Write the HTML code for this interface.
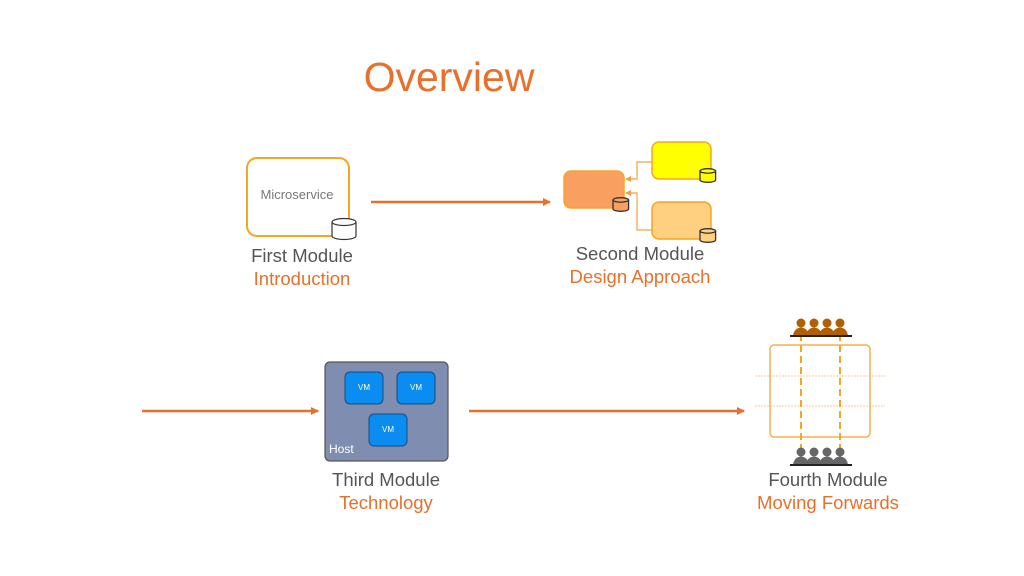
<!DOCTYPE html>
<html><head><meta charset="utf-8"><style>
html,body{margin:0;padding:0;background:#fff;}
svg{display:block;font-family:"Liberation Sans",sans-serif;}
</style></head><body>
<svg width="1024" height="576" viewBox="0 0 1024 576" xmlns="http://www.w3.org/2000/svg">
<defs>
<marker id="ah" markerWidth="8" markerHeight="8" refX="7" refY="4" orient="auto" markerUnits="userSpaceOnUse">
<path d="M0,0 L8,4 L0,8 Z" fill="#E8702A"/></marker>
<marker id="ah2" markerWidth="6" markerHeight="6" refX="5" refY="3" orient="auto" markerUnits="userSpaceOnUse">
<path d="M0,0 L6,3 L0,6 Z" fill="#F5A040"/></marker>
<g id="cyl"><path d="M0,3 L0,17 A12,3.5 0 0 0 24,17 L24,3" fill="#fff" stroke="#333" stroke-width="1.2"/><ellipse cx="12" cy="3" rx="12" ry="3.5" fill="#fff" stroke="#333" stroke-width="1.2"/></g>
<g id="person"><circle cx="6" cy="5" r="4.5"/><path d="M-2,18 Q-1,10 6,9.5 Q13,10 14,18 Z"/></g>
</defs>
<text x="449" y="91" font-size="41" fill="#E8702A" text-anchor="middle">Overview</text>

<!-- First -->
<rect x="247" y="158" width="102" height="78" rx="10" fill="#fff" stroke="#F5A623" stroke-width="2"/>
<text x="297" y="199" font-size="13" fill="#777" text-anchor="middle">Microservice</text>
<use href="#cyl" x="332" y="219"/>
<text x="302" y="262" font-size="18.5" fill="#555" text-anchor="middle">First Module</text>
<text x="302" y="285" font-size="18.5" fill="#E8702A" text-anchor="middle">Introduction</text>
<line x1="371" y1="202" x2="550" y2="202" stroke="#E8702A" stroke-width="2.5" marker-end="url(#ah)"/>

<!-- Second -->
<rect x="564" y="171" width="60" height="37" rx="7" fill="#F9A060" stroke="#F5A623" stroke-width="1.5"/>
<rect x="652" y="142" width="59" height="37" rx="7" fill="#FFFF00" stroke="#F5A623" stroke-width="1.5"/>
<rect x="652" y="202" width="59" height="37" rx="7" fill="#FFD080" stroke="#F5A623" stroke-width="1.5"/>
<path d="M652,162 L637,162 L637,179 L626,179" fill="none" stroke="#F5A040" stroke-width="1.2" marker-end="url(#ah2)"/>
<path d="M652,230 L637,230 L637,193 L626,193" fill="none" stroke="#F5A040" stroke-width="1.2" marker-end="url(#ah2)"/>
<g transform="translate(613,198) scale(0.65)"><path d="M0,3 L0,17 A12,3.5 0 0 0 24,17 L24,3" fill="#F9A060" stroke="#333" stroke-width="2"/><ellipse cx="12" cy="3" rx="12" ry="3.5" fill="#F9A060" stroke="#333" stroke-width="2"/></g>
<g transform="translate(700,169) scale(0.65)"><path d="M0,3 L0,17 A12,3.5 0 0 0 24,17 L24,3" fill="#FFFF00" stroke="#333" stroke-width="2"/><ellipse cx="12" cy="3" rx="12" ry="3.5" fill="#FFFF00" stroke="#333" stroke-width="2"/></g>
<g transform="translate(700,229) scale(0.65)"><path d="M0,3 L0,17 A12,3.5 0 0 0 24,17 L24,3" fill="#FFD080" stroke="#333" stroke-width="2"/><ellipse cx="12" cy="3" rx="12" ry="3.5" fill="#FFD080" stroke="#333" stroke-width="2"/></g>
<text x="640" y="260" font-size="18.5" fill="#555" text-anchor="middle">Second Module</text>
<text x="640" y="283" font-size="18.5" fill="#E8702A" text-anchor="middle">Design Approach</text>

<!-- Third -->
<line x1="142" y1="411" x2="318" y2="411" stroke="#E8702A" stroke-width="2.5" marker-end="url(#ah)"/>
<rect x="325" y="362" width="123" height="99" rx="5" fill="#7F8DB0" stroke="#555" stroke-width="1.2"/>
<rect x="345" y="372" width="38" height="32" rx="5" fill="#0A8CF0" stroke="#1a4a80"/>
<rect x="397" y="372" width="38" height="32" rx="5" fill="#0A8CF0" stroke="#1a4a80"/>
<rect x="369" y="414" width="38" height="32" rx="5" fill="#0A8CF0" stroke="#1a4a80"/>
<text x="364" y="390" font-size="8" fill="#fff" text-anchor="middle">VM</text>
<text x="416" y="390" font-size="8" fill="#fff" text-anchor="middle">VM</text>
<text x="388" y="432" font-size="8" fill="#fff" text-anchor="middle">VM</text>
<text x="329" y="453" font-size="12" fill="#fff">Host</text>
<line x1="469" y1="411" x2="744" y2="411" stroke="#E8702A" stroke-width="2.5" marker-end="url(#ah)"/>
<text x="386" y="486" font-size="18.5" fill="#555" text-anchor="middle">Third Module</text>
<text x="386" y="509" font-size="18.5" fill="#E8702A" text-anchor="middle">Technology</text>

<!-- Fourth -->
<line x1="755" y1="376" x2="885" y2="376" stroke="#F8C890" stroke-width="1" stroke-dasharray="2,1"/>
<line x1="755" y1="406" x2="885" y2="406" stroke="#F8C890" stroke-width="1" stroke-dasharray="2,1"/>
<rect x="770" y="345" width="100" height="92" rx="4" fill="none" stroke="#F5B050" stroke-width="1.5"/>
<line x1="801" y1="334" x2="801" y2="462" stroke="#F5A623" stroke-width="2" stroke-dasharray="7,4"/>
<line x1="840" y1="334" x2="840" y2="462" stroke="#F5A623" stroke-width="2" stroke-dasharray="7,4"/>
<g fill="#B06000"><use href="#person" x="795" y="318"/><use href="#person" x="808" y="318"/><use href="#person" x="821" y="318"/><use href="#person" x="834" y="318"/></g>
<rect x="790" y="335" width="62" height="2" fill="#222"/>
<g fill="#666"><use href="#person" x="795" y="447"/><use href="#person" x="808" y="447"/><use href="#person" x="821" y="447"/><use href="#person" x="834" y="447"/></g>
<rect x="790" y="464" width="62" height="2" fill="#222"/>
<text x="828" y="486" font-size="18.5" fill="#555" text-anchor="middle">Fourth Module</text>
<text x="828" y="509" font-size="18.5" fill="#E8702A" text-anchor="middle">Moving Forwards</text>
</svg>
</body></html>
